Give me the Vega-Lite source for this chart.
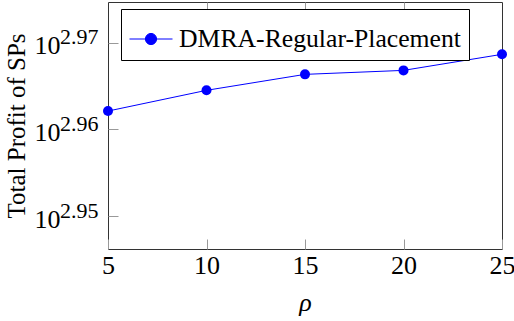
{
  "$schema": "https://vega.github.io/schema/vega-lite/v6.json",
  "width": 394,
  "height": 247,
  "autosize": {"type": "none"},
  "padding": {"left": 108, "top": 2, "right": 12, "bottom": 72},
  "background": "white",
  "config": {"view": {"stroke": "#333333", "strokeWidth": 1}, "font": "Liberation Serif"},
  "data": {"values": [
    {"rho": 5, "profit": 916.45, "series": "DMRA-Regular-Placement"},
    {"rho": 10, "profit": 921.51, "series": "DMRA-Regular-Placement"},
    {"rho": 15, "profit": 925.42, "series": "DMRA-Regular-Placement"},
    {"rho": 20, "profit": 926.40, "series": "DMRA-Regular-Placement"},
    {"rho": 25, "profit": 930.36, "series": "DMRA-Regular-Placement"}
  ]},
  "layer": [
    {
      "mark": {"type": "line", "strokeWidth": 1},
      "encoding": {
        "x": {"field": "rho", "type": "quantitative",
          "scale": {"domain": [5, 25], "nice": false, "zero": false},
          "axis": {"orient": "bottom", "values": [5, 10, 15, 20, 25], "labelFont": "Liberation Serif", "labelFontSize": 26, "labelColor": "black", "labelFlush": false, "labelOverlap": false, "labelPadding": 13, "tickSize": -10, "tickColor": "#999999", "domain": false, "grid": false, "title": "ρ", "titleFont": "Liberation Serif", "titleFontStyle": "italic", "titleFontWeight": "normal", "titleFontSize": 26, "titleColor": "black", "titlePadding": 11}},
        "y": {"field": "profit", "type": "quantitative",
          "scale": {"type": "log", "domain": [883.48, 943.38], "nice": false, "zero": false},
          "axis": {"orient": "left", "values": [891.25, 912.01, 933.25], "labelExpr": "'10'", "labelFont": "Liberation Serif", "labelFontSize": 26, "labelColor": "black", "labelPadding": 58, "labelBaseline": "middle", "labelOffset": 3, "labelOverlap": false, "tickSize": -10, "tickColor": "#999999", "domain": false, "grid": false, "title": "Total Profit of SPs", "titleFont": "Liberation Serif", "titleFontWeight": "normal", "titleFontSize": 25, "titleColor": "black", "titlePadding": 5}},
        "color": {"field": "series", "type": "nominal",
          "scale": {"range": ["#0000ff"]},
          "legend": {"orient": "none", "legendX": 13, "legendY": 7, "title": null,
            "symbolType": "M-1,0L1,0M0.26,0A0.26,0.26,0,1,1,-0.26,0A0.26,0.26,0,1,1,0.26,0Z",
            "symbolSize": 1849, "symbolStrokeWidth": 1, "symbolFillColor": "#0000ff", "symbolStrokeColor": "#0000ff",
            "labelFont": "Liberation Serif", "labelFontSize": 25.7, "labelColor": "black", "labelOffset": 6, "labelLimit": 500,
            "padding": 8, "strokeColor": "black", "fillColor": "white"}}
      }
    },
    {
      "mark": {"type": "point", "filled": true, "size": 100, "opacity": 1},
      "encoding": {
        "x": {"field": "rho", "type": "quantitative",
          "scale": {"domain": [5, 25], "nice": false, "zero": false},
          "axis": {"orient": "top", "values": [10, 15, 20], "labels": false, "tickSize": -10, "tickColor": "#999999", "domain": false, "grid": false, "title": null}},
        "y": {"field": "profit", "type": "quantitative",
          "scale": {"type": "log", "domain": [883.48, 943.38], "nice": false, "zero": false},
          "axis": {"orient": "left", "values": [891.25, 912.01, 933.25], "labelExpr": "format(log(datum.value)/LN10, '.2f')", "labelFont": "Liberation Serif", "labelFontSize": 22, "labelColor": "black", "labelPadding": 10, "labelBaseline": "middle", "labelOffset": -6, "labelOverlap": false, "ticks": false, "domain": false, "grid": false, "title": null}},
        "color": {"field": "series", "type": "nominal", "scale": {"range": ["#0000ff"]}}
      }
    }
  ],
  "resolve": {"axis": {"x": "independent", "y": "independent"}}
}
